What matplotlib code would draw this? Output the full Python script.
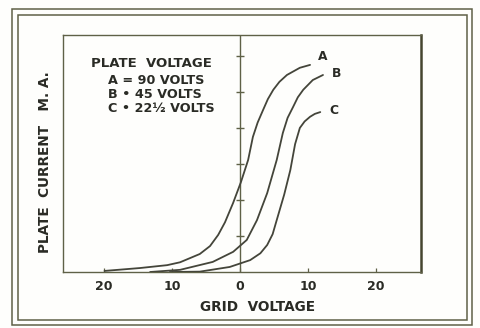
#!/usr/bin/env python3
"""Plate current vs. grid voltage for three plate voltages (triode characteristic)."""

import matplotlib.pyplot as plt
from matplotlib.patches import Rectangle

# ---------------------------------------------------------------------------
# Data: grid voltage (V) and plate current (relative, one unit per axis tick)
# ---------------------------------------------------------------------------
A_GRID = [-19.9, -14.7, -10.7, -8.8, -5.9, -4.4, -3.2, -2.2, -1.0, 0.15, 1.2, 1.9, 2.6, 3.4, 4.1, 4.9, 5.8, 6.9, 8.8, 10.3]
A_CURR = [0.03, 0.11, 0.19, 0.27, 0.50, 0.72, 1.03, 1.38, 1.92, 2.50, 3.11, 3.75, 4.15, 4.50, 4.80, 5.06, 5.28, 5.47, 5.67, 5.75]

B_GRID = [-13.2, -8.8, -4.0, -1.0, 1.0, 2.5, 4.0, 5.4, 6.3, 7.0, 7.8, 8.5, 9.3, 10.7, 12.2]
B_CURR = [0.00, 0.06, 0.28, 0.56, 0.89, 1.44, 2.19, 3.11, 3.86, 4.28, 4.58, 4.85, 5.06, 5.33, 5.47]

C_GRID = [-10.3, -5.9, -1.5, 1.5, 3.0, 4.0, 4.8, 5.4, 6.5, 7.4, 8.1, 8.8, 9.5, 10.3, 11.0, 11.8]
C_CURR = [0.00, 0.01, 0.14, 0.33, 0.52, 0.75, 1.05, 1.44, 2.15, 2.83, 3.55, 4.00, 4.18, 4.31, 4.39, 4.44]

CURVE_NAMES = ["A", "B", "C"]
X_TICKS = [-20, -10, 0, 10, 20]
X_TICK_LABELS = ["20", "10", "0", "10", "20"]
Y_TICKS = [1, 2, 3, 4, 5, 6]
LEGEND_LINES = ["PLATE  VOLTAGE", "A = 90 VOLTS", "B \u2022 45 VOLTS", "C \u2022 22\u00bd VOLTS"]

# ---------------------------------------------------------------------------
# Style
# ---------------------------------------------------------------------------
INK = "#2a2b25"
CURVE = "#44453a"
FRAME = "#5f6147"
PAPER = "#fefefc"

plt.rcParams.update({
    "font.family": "DejaVu Sans",
    "font.weight": "bold",
})


def main():
    fig = plt.figure(figsize=(4.8, 3.28), dpi=100, facecolor=PAPER)

    # double border round the whole figure
    W, H = 480.0, 328.0
    for (x0, y0, x1, y1) in [(12, 9, 472, 325), (18, 15, 467, 320)]:
        fig.patches.append(Rectangle((x0 / W, 1 - y1 / H), (x1 - x0) / W, (y1 - y0) / H,
                                     transform=fig.transFigure, fill=False,
                                     edgecolor=FRAME, linewidth=1.1))

    ax = fig.add_axes([63 / W, 1 - 272 / H, (421 - 63) / W, (272 - 35) / H])
    ax.set_facecolor(PAPER)
    ax.set_xlim(-26.0, 26.6)
    ax.set_ylim(0, 6.58)

    for s in ax.spines.values():
        s.set_color(FRAME)
        s.set_linewidth(1.0)
    ax.spines["right"].set_linewidth(1.8)
    ax.spines["right"].set_color("#45462f")

    # grid-voltage zero line with its current ticks
    ax.axvline(0, color=FRAME, linewidth=1.0, zorder=2)
    ax.plot([0] * len(Y_TICKS), Y_TICKS, linestyle="none", marker="_",
            markersize=6, markeredgewidth=1.0, color=FRAME, zorder=2)

    ax.set_xticks(X_TICKS)
    ax.set_xticklabels(X_TICK_LABELS, fontsize=9, color=INK, fontweight="bold")
    ax.tick_params(axis="x", direction="in", length=3, width=0.9, color=FRAME, pad=6)
    ax.set_yticks([])

    series = [(A_GRID, A_CURR), (B_GRID, B_CURR), (C_GRID, C_CURR)]
    label_offsets = [(1.2, 0.22), (1.3, 0.05), (1.3, 0.05)]
    for name, (gx, gy), (dx, dy) in zip(CURVE_NAMES, series, label_offsets):
        ax.plot(gx, gy, color=CURVE, linewidth=1.3, solid_capstyle="round",
                solid_joinstyle="round", zorder=3)
        ax.text(gx[-1] + dx, gy[-1] + dy, name, fontsize=8.8, color=INK,
                fontweight="bold", ha="left", va="center")

    # legend block
    ax.text(-13.0, 5.8, LEGEND_LINES[0], fontsize=9.5, color=INK,
            fontweight="bold", ha="center", va="center")
    for i, line in enumerate(LEGEND_LINES[1:]):
        ax.text(-19.4, 5.33 - 0.39 * i, line, fontsize=9.2, color=INK,
                fontweight="bold", ha="left", va="center")

    fig.text(257 / W, 1 - 307 / H, "GRID  VOLTAGE", fontsize=9.8, color=INK,
             fontweight="bold", ha="center", va="center")
    fig.text(45 / W, 1 - 162 / H, "PLATE  CURRENT   M. A.", fontsize=9.8, color=INK,
             fontweight="bold", ha="center", va="center", rotation=90)

    fig.savefig("out.png", dpi=100, facecolor=PAPER)
    plt.close(fig)


if __name__ == "__main__":
    main()
